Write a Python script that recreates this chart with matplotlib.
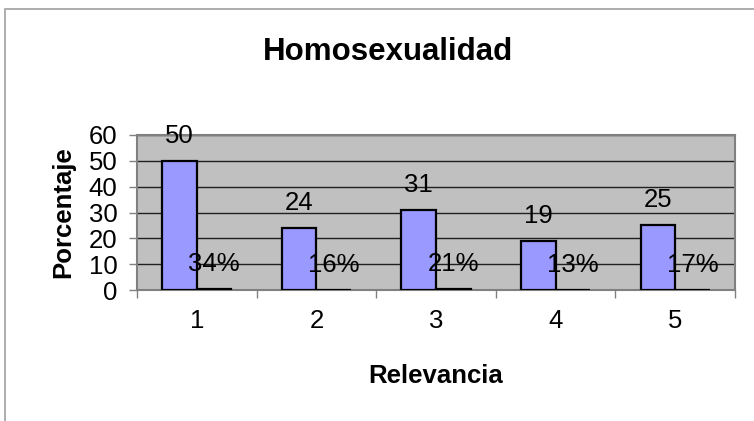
import numpy as np
import matplotlib.pyplot as plt
from matplotlib.patches import Rectangle

# === データ ===
categorias = ["1", "2", "3", "4", "5"]
valores = [50, 24, 31, 19, 25]
proporciones = [0.34, 0.16, 0.21, 0.13, 0.17]
etiquetas_pct = ["34%", "16%", "21%", "13%", "17%"]

plt.rcParams['font.family'] = ['Liberation Sans', 'DejaVu Sans']

W, H = 754, 421
fig = plt.figure(figsize=(W / 100, H / 100), dpi=100)
ax = fig.add_axes([137 / W, 1 - 290 / H, (735 - 137) / W, (290 - 135) / H])

# chart area border
fig.patches.append(Rectangle((5 / W, -0.2), 1.2, 1.2 - 9 / H, transform=fig.transFigure,
                             facecolor='none', edgecolor='#a0a0a0', linewidth=1.2))

x = np.arange(len(categorias))
w = 0.29
ax.set_facecolor('#c0c0c0')
b1 = ax.bar(x - w / 2, valores, w, color='#9999ff', edgecolor='black', linewidth=1.6, zorder=3)
b2 = ax.bar(x + w / 2, proporciones, w, color='#993366', edgecolor='black', linewidth=1.6, zorder=3)

for xi, v in zip(x, valores):
    ax.annotate(str(v), (xi - w / 2, v), xytext=(0, 18), textcoords='offset points',
                ha='center', va='center', fontsize=18.5, annotation_clip=False)
for xi, v, t in zip(x, proporciones, etiquetas_pct):
    ax.annotate(t, (xi + w / 2, v), xytext=(0, 18), textcoords='offset points',
                ha='center', va='center', fontsize=18.5, annotation_clip=False)

ax.set_xlim(-0.5, 4.5)
ax.set_ylim(0, 60)
ax.set_yticks(range(0, 61, 10))
ax.tick_params(axis='y', labelsize=18.5, length=6, width=1, color='#808080', pad=8)
ax.set_xticks(x)
ax.set_xticklabels(categorias)
ax.set_xticks(np.arange(-0.5, 5, 1), minor=True)
ax.tick_params(axis='x', which='major', length=0, labelsize=18.5, pad=14)
ax.tick_params(axis='x', which='minor', length=6, width=1, color='#808080')
ax.yaxis.grid(True, color='#202020', linewidth=1)
ax.set_axisbelow(True)
for s in ax.spines.values():
    s.set_color('#808080')
    s.set_linewidth(1.5)

ax.set_ylabel("Porcentaje", fontsize=18.5, fontweight='bold', labelpad=10)
ax.set_xlabel("Relevancia", fontsize=18.5, fontweight='bold', labelpad=22)
fig.text(388 / W, 1 - 52 / H, "Homosexualidad", fontsize=22.5, fontweight='bold',
         ha='center', va='center')

fig.savefig("out.png", dpi=100)
